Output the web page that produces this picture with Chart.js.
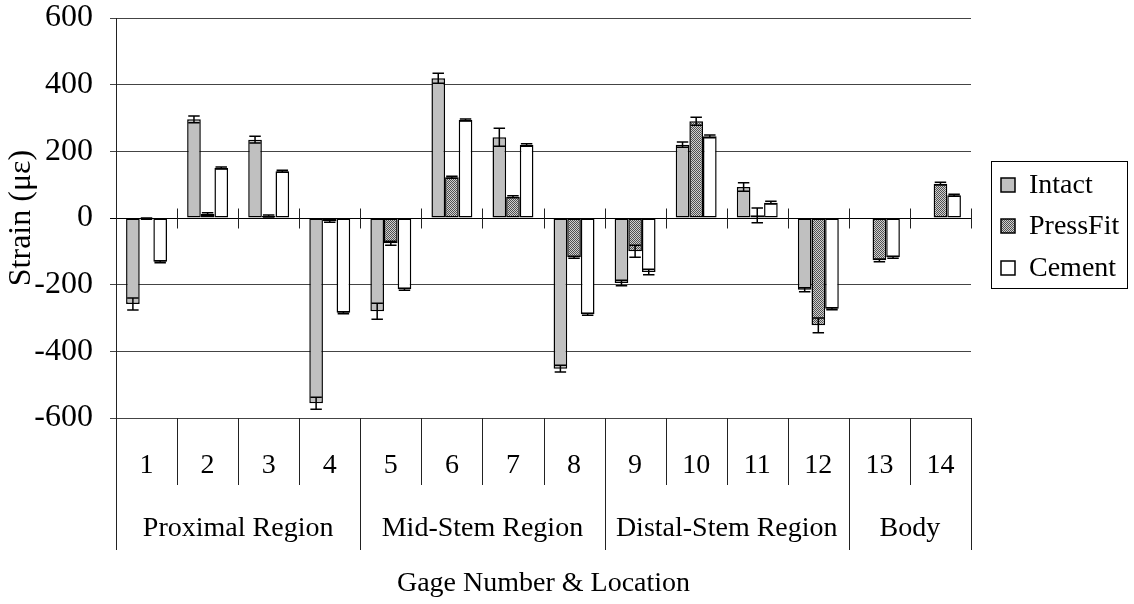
<!DOCTYPE html>
<html>
<head>
<meta charset="utf-8">
<script src="https://cdn.jsdelivr.net/npm/chart.js@4/dist/chart.umd.min.js"></script>
<style>
  html, body { margin: 0; padding: 0; background: #fff; }
  #wrap { width: 1134px; height: 604px; }
</style>
</head>
<body>
<div id="wrap"><canvas id="c" width="1134" height="604"></canvas></div>
<script>
// ---- data ----
const gages = ['1','2','3','4','5','6','7','8','9','10','11','12','13','14'];
const regionNames = ['Proximal Region', 'Mid-Stem Region', 'Distal-Stem Region', 'Body'];
const regionSizes = [4, 4, 4, 2];
const seriesNames = ['Intact', 'PressFit', 'Cement'];
const intact      = [-258, 296, 235, -556, -280, 419, 242, -452, -195, 220, 93, -215, null, null];
const intactErr   = [18, 10, 10, 18, 24, 15, 27, 10, 8, 8, 13, 6, 0, 0];
const pressFit    = [-2, 12, 6, -10, -76, 122, 64, -118, -100, 290, 8, -322, -127, 103];
const pressFitErr = [2, 4, 3, 3, 6, 3, 3, 3, 18, 12, 22, 22, 4, 4];
const cement      = [-131, 150, 140, -284, -214, 294, 219, -289, -162, 245, 46, -272, -118, 68];
const cementErr   = [3, 3, 3, 3, 3, 3, 4, 3, 8, 4, 4, 3, 3, 3];
const yTicks = [-600, -400, -200, 0, 200, 400, 600];

const FONT = "'Liberation Serif', 'Times New Roman', serif";

function makePattern() {
  const p = document.createElement('canvas');
  p.width = 4; p.height = 4;
  const g = p.getContext('2d');
  g.fillStyle = '#d0d0d0'; g.fillRect(0, 0, 4, 4);
  g.fillStyle = '#505050';
  g.fillRect(0, 0, 1, 1); g.fillRect(2, 0, 1, 1);
  g.fillRect(1, 1, 1, 1); g.fillRect(3, 1, 1, 1);
  g.fillRect(0, 2, 1, 1); g.fillRect(2, 2, 1, 1);
  g.fillRect(1, 3, 1, 1); g.fillRect(3, 3, 1, 1);
  return g.createPattern(p, 'repeat');
}
const ctx = document.getElementById('c').getContext('2d');
const pattern = makePattern();
const fills = ['#c0c0c0', pattern, '#ffffff'];
const errs = [intactErr, pressFitErr, cementErr];

const errorBars = {
  id: 'errorBars',
  afterDatasetsDraw(chart) {
    const c = chart.ctx, ys = chart.scales.y;
    c.save();
    c.strokeStyle = '#000';
    c.lineWidth = 1.5;
    chart.data.datasets.forEach((ds, i) => {
      const meta = chart.getDatasetMeta(i);
      meta.data.forEach((el, j) => {
        const v = ds.data[j];
        if (v === null || v === undefined) return;
        const e = errs[i][j];
        const x = el.x;
        const y1 = ys.getPixelForValue(v + e), y2 = ys.getPixelForValue(v - e);
        const hw = el.width * 0.42;
        c.beginPath();
        c.moveTo(x, y1); c.lineTo(x, y2);
        c.moveTo(x - hw, y1); c.lineTo(x + hw, y1);
        c.moveTo(x - hw, y2); c.lineTo(x + hw, y2);
        c.stroke();
      });
    });
    c.restore();
  }
};

const tableAxis = {
  id: 'tableAxis',
  afterDraw(chart) {
    const c = chart.ctx, xs = chart.scales.x, ys = chart.scales.y;
    const area = chart.chartArea;
    const n = gages.length;
    const bounds = [];
    for (let i = 0; i <= n; i++) {
      if (i === 0) bounds.push(area.left);
      else if (i === n) bounds.push(area.right);
      else bounds.push((xs.getPixelForValue(i - 1) + xs.getPixelForValue(i)) / 2);
    }
    const regionEdges = [0];
    regionSizes.forEach(s => regionEdges.push(regionEdges[regionEdges.length - 1] + s));
    const bottom = area.bottom;
    const row1 = bottom + 67, row2 = bottom + 132;
    c.save();
    c.strokeStyle = '#222';
    c.lineWidth = 1;
    // ticks on zero line
    const y0 = Math.round(ys.getPixelForValue(0)) + 0.5;
    bounds.forEach(b => {
      const x = Math.round(b) + 0.5;
      c.beginPath(); c.moveTo(x, y0 - 10); c.lineTo(x, y0 + 10); c.stroke();
    });
    // table lines
    bounds.forEach((b, i) => {
      const x = Math.round(b) + 0.5;
      const full = regionEdges.includes(i);
      c.beginPath();
      c.moveTo(x, full && i === 0 ? area.top : bottom);
      c.lineTo(x, full ? row2 : row1);
      c.stroke();
    });
    // labels
    c.fillStyle = '#000';
    c.textAlign = 'center';
    c.textBaseline = 'middle';
    c.font = '28px ' + FONT;
    gages.forEach((g, i) => {
      c.fillText(g, (bounds[i] + bounds[i + 1]) / 2, bottom + 48);
    });
    regionNames.forEach((r, k) => {
      const xa = bounds[regionEdges[k]], xb = bounds[regionEdges[k + 1]];
      c.fillText(r, (xa + xb) / 2, bottom + 111);
    });
    // x title
    c.fillText('Gage Number & Location', (area.left + area.right) / 2, bottom + 166);
    // legend
    const lx = area.right + 20, ly = 161, lw = 136, lh = 127;
    c.strokeStyle = '#000';
    c.strokeRect(lx + 0.5, ly + 0.5, lw, lh);
    c.textAlign = 'left';
    const rows = [185, 226, 268];
    seriesNames.forEach((s, i) => {
      const yy = rows[i];
      c.fillStyle = fills[i];
      c.fillRect(lx + 10, yy - 7, 14, 14);
      c.strokeStyle = '#000';
      c.lineWidth = 1.5;
      c.strokeRect(lx + 10, yy - 7, 14, 14);
      c.fillStyle = '#000';
      c.fillText(s, lx + 38, yy + 1);
    });
    c.restore();
  }
};

const series = [intact, pressFit, cement];
new Chart(ctx, {
  type: 'bar',
  data: {
    labels: gages,
    datasets: seriesNames.map((name, i) => ({
      label: name,
      data: series[i],
      backgroundColor: fills[i],
      borderColor: '#000',
      borderWidth: 1.5,
      borderSkipped: false,
      categoryPercentage: 0.67,
      barPercentage: 1.0
    }))
  },
  options: {
    responsive: false,
    animation: false,
    devicePixelRatio: 1,
    layout: { padding: { left: 0, top: 0, right: 163, bottom: 186 } },
    plugins: { legend: { display: false }, tooltip: { enabled: false } },
    scales: {
      x: { display: false },
      y: {
        min: -600, max: 600,
        afterFit(scale) { scale.width = 116; scale.paddingTop = 18; },
        afterBuildTicks(scale) { scale.ticks = yTicks.map(v => ({ value: v })); },
        ticks: { color: '#000', font: { family: FONT, size: 32 }, padding: 17 },
        grid: {
          color: ctx => (ctx.tick && ctx.tick.value === 0) ? '#000' : '#444',
          lineWidth: 1, tickLength: 6, drawTicks: true
        },
        border: { display: true, color: '#000', width: 1 },
        title: { display: true, text: 'Strain (με)', color: '#000', font: { family: FONT, size: 32 }, padding: { top: 2, bottom: 0 } }
      }
    }
  },
  plugins: [errorBars, tableAxis]
});
</script>
</body>
</html>
